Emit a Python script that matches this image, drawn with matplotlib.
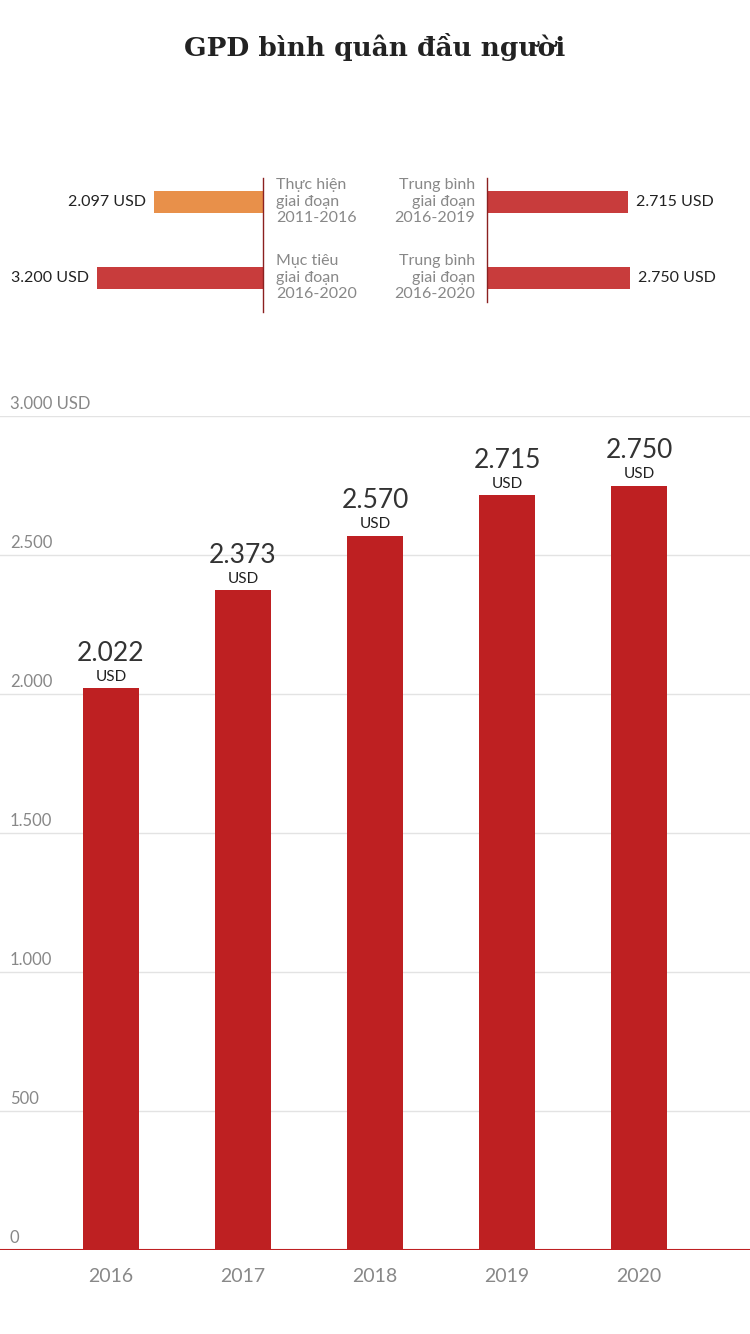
import matplotlib
matplotlib.use("Agg")
import matplotlib.pyplot as plt
from matplotlib import transforms

years = ["2016", "2017", "2018", "2019", "2020"]
gdp = [2022, 2373, 2570, 2715, 2750]
gdp_labels = ["2.022", "2.373", "2.570", "2.715", "2.750"]
yticks = [0, 500, 1000, 1500, 2000, 2500, 3000]
ytick_labels = ["0", "500", "1.000", "1.500", "2.000", "2.500", "3.000 USD"]

left_vals = [2097, 3200]
left_labels = ["2.097 USD", "3.200 USD"]
left_texts = ["Thực hiện\ngiai đoạn\n2011-2016", "Mục tiêu\ngiai đoạn\n2016-2020"]
right_vals = [2715, 2750]
right_labels = ["2.715 USD", "2.750 USD"]
right_texts = ["Trung bình\ngiai đoạn\n2016-2019", "Trung bình\ngiai đoạn\n2016-2020"]

plt.rcParams['font.family'] = ['Lato', 'DejaVu Sans']
W, H = 750, 1334
fig = plt.figure(figsize=(7.5, 13.34), dpi=100)

def rect(x0, y0, x1, y1):
    return [x0 / W, 1 - y1 / H, (x1 - x0) / W, (y1 - y0) / H]

fig.text(0.5, 1 - 47 / H, "GPD bình quân đầu người", ha='center', va='center',
         fontsize=19, fontweight='bold', family=['DejaVu Serif'], color='#222222')

# Top comparison
red2 = '#C83C3C'
scale_max = 4000
axl = fig.add_axes(rect(263 - 207.5, 170, 263, 320))
axr = fig.add_axes(rect(487, 170, 487 + 207.5, 320))
for ax in (axl, axr):
    ax.set_ylim(1.553, -0.421)
    ax.axis('off')
axl.set_xlim(scale_max, 0)
axr.set_xlim(0, scale_max)
axl.barh([0, 1], left_vals, height=0.29, color=['#E8904A', red2])
axr.barh([0, 1], right_vals, height=0.29, color=[red2, red2])
for i in range(2):
    axl.annotate(left_labels[i], (left_vals[i], i), xytext=(-6, 0), textcoords='offset points',
                 ha='right', va='center', fontsize=11.5, color='#222222')
    axr.annotate(right_labels[i], (right_vals[i], i), xytext=(6, 0), textcoords='offset points',
                 ha='left', va='center', fontsize=11.5, color='#222222')
    ty = [178, 254][i]
    fig.text(276 / W, 1 - ty / H, left_texts[i], ha='left', va='top', fontsize=11.5,
             color='#888888', linespacing=1.25)
    fig.text(475 / W, 1 - ty / H, right_texts[i], ha='right', va='top', fontsize=11.5,
             color='#888888', multialignment='right', linespacing=1.25)
fig.add_artist(plt.Line2D([263 / W] * 2, [1 - 178 / H, 1 - 312 / H], color='#8B2020', lw=1))
fig.add_artist(plt.Line2D([487 / W] * 2, [1 - 178 / H, 1 - 302 / H], color='#8B2020', lw=1))

# Main chart
ax = fig.add_axes(rect(0, 416, 750, 1250))
x = list(range(len(years)))
ax.set_xlim(-0.841, 4.841)
ax.set_ylim(0, 3000)
ax.bar(x, gdp, width=0.424, color='#BE2022', zorder=3)
for y in yticks[1:]:
    ax.axhline(y, color='#e3e3e3', lw=1, zorder=1)
ax.axhline(0, color='#BE2022', lw=1.5, zorder=4)
tr = transforms.blended_transform_factory(fig.transFigure, ax.transData)
for y, lab in zip(yticks, ytick_labels):
    ax.annotate(lab, (10 / W, y), xycoords=tr, xytext=(0, 3), textcoords='offset points',
                ha='left', va='bottom', fontsize=12, color='#888888')
for i in x:
    ax.annotate("USD", (i, gdp[i]), xytext=(0, 3), textcoords='offset points',
                ha='center', va='bottom', fontsize=11, color='#222222')
    ax.annotate(gdp_labels[i], (i, gdp[i]), xytext=(0, 16), textcoords='offset points',
                ha='center', va='bottom', fontsize=19, color='#333333')
    ax.annotate(years[i], (i, 0), xytext=(0, -19), textcoords='offset points',
                ha='center', va='center', fontsize=14, color='#888888')
for s in ax.spines.values():
    s.set_visible(False)
ax.set_xticks([]); ax.set_yticks([])

fig.savefig("out.png", dpi=100)
